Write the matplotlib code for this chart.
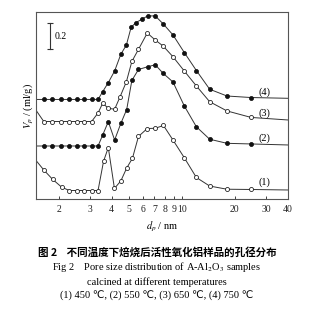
import numpy as np
import matplotlib
matplotlib.use("Agg")
import matplotlib.pyplot as plt
from matplotlib.ticker import FixedLocator, NullLocator, NullFormatter

# pore size distributions (offset curves, ml/g)
d_flat8 = [1.65, 1.84, 2.06, 2.30, 2.54, 2.80, 3.08, 3.35]

d4 = [1.5] + d_flat8 + [3.56, 3.83, 4.16, 4.51, 4.85, 5.16, 5.49, 5.93, 6.40,
                        7.07, 7.85, 8.91, 10.33, 12.09, 14.39, 18.03, 24.70, 40]
v4 = [0.783] + [0.783] * 8 + [0.844, 0.915, 1.006, 1.137, 1.210, 1.349, 1.385,
                              1.412, 1.438, 1.438, 1.375, 1.289, 1.151, 1.010,
                              0.863, 0.810, 0.798, 0.792]

d3 = [1.5] + d_flat8 + [3.56, 3.83, 4.16, 4.46, 4.85, 5.21, 5.68, 6.37, 7.07,
                        7.85, 8.91, 10.33, 12.09, 14.39, 18.03, 24.70, 40]
v3 = [0.693] + [0.610] * 7 + [0.677, 0.753, 0.714, 0.706, 0.802, 0.922, 1.081,
                              1.176, 1.304, 1.249, 1.201, 1.118, 1.006, 0.889,
                              0.765, 0.693, 0.642, 0.622]

d2 = [1.5] + d_flat8 + [3.56, 3.83, 4.16, 4.51, 4.87, 5.21, 5.68, 6.43, 7.07,
                        7.85, 8.91, 10.33, 12.09, 14.39, 18.03, 24.70, 40]
v2 = [0.418] + [0.418] * 8 + [0.504, 0.609, 0.465, 0.595, 0.704, 0.932, 1.018,
                              1.040, 1.055, 0.987, 0.920, 0.732, 0.569, 0.471,
                              0.439, 0.434, 0.426]

d1 = [1.5, 1.65, 1.85, 2.08, 2.30, 2.54, 2.80, 3.08, 3.35, 3.60, 3.83, 4.15,
      4.51, 4.87, 5.25, 5.68, 6.37, 7.07, 7.87, 8.91, 10.33, 12.09, 14.39,
      18.03, 24.70, 40]
v1 = [0.300, 0.230, 0.157, 0.096, 0.069, 0.069, 0.069, 0.069, 0.069, 0.298,
      0.406, 0.085, 0.144, 0.245, 0.322, 0.493, 0.555, 0.557, 0.579, 0.465,
      0.326, 0.171, 0.104, 0.079, 0.077, 0.073]

curves = [(d1, v1, "white", "(1)", 0.136),
          (d2, v2, "#111111", "(2)", 0.478),
          (d3, v3, "white", "(3)", 0.677),
          (d4, v4, "#111111", "(4)", 0.841)]

xticks = [2, 3, 4, 5, 6, 7, 8, 9, 10, 20, 30, 40]
xlabels = ["2", "3", "4", "5", "6", "7", "8", "9", "10", "20", "30", "40"]

serif = ["Liberation Serif", "DejaVu Serif"]
plt.rcParams["font.family"] = serif
plt.rcParams["mathtext.fontset"] = "stix"

fig = plt.figure(figsize=(3.14, 3.15), dpi=100)
ax = fig.add_axes([0.1162, 0.3673, 0.8010, 0.5947])

lc = "#333333"
for d, v, fc, lab, ly in curves:
    ax.plot(d, v, "-", color=lc, lw=0.7, zorder=2)
    ax.plot(d[1:-1], v[1:-1], "o", ms=2.9, mfc=fc, mec="#111111", mew=0.55,
            zorder=3)
    ax.text(29.5, ly, lab, fontsize=7.5, ha="center", va="center")

# scale bar 0.2
ax.plot([1.784, 1.784], [1.179, 1.379], color=lc, lw=0.8)
ax.plot([1.784, 1.784], [1.179, 1.379], "_", color=lc, ms=5, mew=0.8)
ax.text(1.9, 1.279, "0.2", fontsize=7, va="center", ha="left")

ax.set_xscale("log")
ax.set_xlim(1.5, 40)
ax.set_ylim(0, 1.469)
ax.xaxis.set_major_locator(FixedLocator(xticks))
ax.xaxis.set_minor_locator(NullLocator())
ax.xaxis.set_minor_formatter(NullFormatter())
ax.set_xticklabels(xlabels)
ax.tick_params(axis="x", direction="in", length=2.5, width=0.6,
               labelsize=7, pad=4, colors="#222222")
ax.set_yticks([])
for s in ax.spines.values():
    s.set_color("#555555")
    s.set_linewidth(0.8)

ax.set_xlabel("$d_p$ / nm", fontsize=7.5, labelpad=4)
ax.set_ylabel("$V_p$ / (ml/g)", fontsize=7.5, labelpad=1)

cjk = ["Noto Sans CJK SC", "DejaVu Sans"]
fig.text(0.5, 1 - 252 / 315, "图 2    不同温度下焙烧后活性氧化铝样品的孔径分布",
         fontsize=7.6, family=cjk, weight="bold", ha="center", va="center")
fig.text(0.5, 1 - 267 / 315,
         "Fig 2    Pore size distribution of A-Al$_2$O$_3$ samples",
         fontsize=7.5, ha="center", va="center")
fig.text(0.5, 1 - 282 / 315, "calcined at different temperatures",
         fontsize=7.5, ha="center", va="center")
fig.text(0.5, 1 - 296 / 315,
         "(1) 450 \u2103, (2) 550 \u2103, (3) 650 \u2103, (4) 750 \u2103",
         fontsize=7.5, ha="center", va="center",
         family=["Liberation Serif", "DejaVu Sans"])

fig.savefig("out.png", dpi=100)
